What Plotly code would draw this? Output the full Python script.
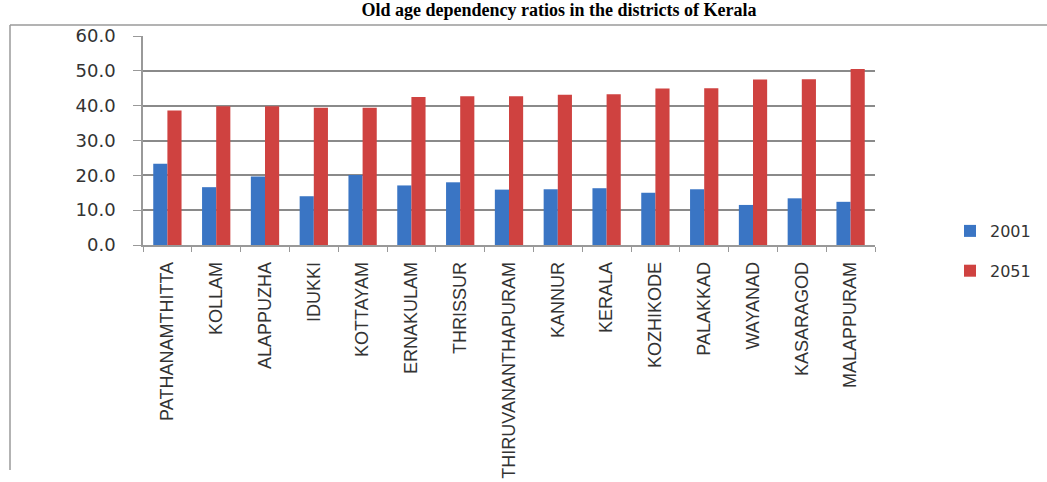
import plotly.graph_objects as go

districts = ["PATHANAMTHITTA", "KOLLAM", "ALAPPUZHA", "IDUKKI", "KOTTAYAM", "ERNAKULAM",
             "THRISSUR", "THIRUVANANTHAPURAM", "KANNUR", "KERALA", "KOZHIKODE", "PALAKKAD",
             "WAYANAD", "KASARAGOD", "MALAPPURAM"]
ratio_2001 = [23.3, 16.6, 19.7, 14.0, 20.1, 17.1, 18.0, 15.9, 16.0, 16.3, 15.0, 16.0, 11.5, 13.4, 12.4]
ratio_2051 = [38.6, 39.8, 39.8, 39.4, 39.4, 42.5, 42.7, 42.7, 43.1, 43.3, 44.9, 45.0, 47.5, 47.6, 50.5]
y_ticks = [0, 10, 20, 30, 40, 50, 60]
y_tick_text = ["0.0", "10.0", "20.0", "30.0", "40.0", "50.0", "60.0"]

fig = go.Figure()
fig.add_trace(go.Bar(x=districts, y=ratio_2001, name="2001", legendgroup="a",
                     marker=dict(color="#3a75c4", line=dict(width=0))))
fig.add_trace(go.Bar(x=districts, y=ratio_2051, name="2051", legendgroup="b",
                     marker=dict(color="#cf4240", line=dict(width=0))))

W, H = 1047, 482
L, R, T, B = 143, 172, 36, 237
pw, ph = W - L - R, H - T - B

def px(x):
    return (x - L) / pw

def py(y):
    return (H - B - y) / ph

fig.update_layout(
    width=W, height=H,
    margin=dict(l=L, r=R, t=T, b=B, autoexpand=False),
    paper_bgcolor="white", plot_bgcolor="white",
    barmode="group", bargap=0.42, bargroupgap=0,
    title=dict(text="<b>Old age dependency ratios in the districts of Kerala</b>",
               x=559 / W, xanchor="center", xref="container",
               y=1.0, yanchor="top", yref="container", pad=dict(t=3),
               font=dict(family="Liberation Serif, Times New Roman, serif", size=18, color="black")),
    legend=dict(x=px(950), y=py(214), xanchor="left", yanchor="top",
                font=dict(family="DejaVu Sans", size=16, color="#333"),
                tracegroupgap=16, itemsizing="constant", bgcolor="rgba(0,0,0,0)"),
    xaxis=dict(type="category", tickangle=-90, automargin=False,
               tickfont=dict(family="Liberation Sans Narrow, Arial Narrow, sans-serif", size=18, color="#333"),
               ticks="outside", tickson="boundaries", ticklen=5, tickcolor="#999",
               showline=True, linecolor="#999", linewidth=1.5, showgrid=False,
               ticklabelstandoff=8),
    yaxis=dict(range=[0, 60], tickvals=y_ticks, ticktext=y_tick_text, automargin=False,
               tickfont=dict(family="DejaVu Sans", size=18, color="#333"),
               ticks="outside", ticklen=8, tickcolor="#999",
               showline=True, linecolor="#999", linewidth=1.5,
               showgrid=True, gridcolor="#8a8a8a", gridwidth=1.5,
               ticklabelstandoff=14, zeroline=False),
    shapes=[
        dict(type="line", xref="paper", yref="paper", x0=px(10), x1=px(10), y0=py(25), y1=py(470),
             line=dict(color="#9a9a9a", width=1.5), layer="below"),
        dict(type="line", xref="paper", yref="paper", x0=px(10), x1=px(1047), y0=py(25), y1=py(25),
             line=dict(color="#9a9a9a", width=1.5), layer="below"),
    ],
)

fig.write_html("out.html", config={"displayModeBar": False},
               post_script="document.body.style.margin='0';document.body.style.padding='0';")
